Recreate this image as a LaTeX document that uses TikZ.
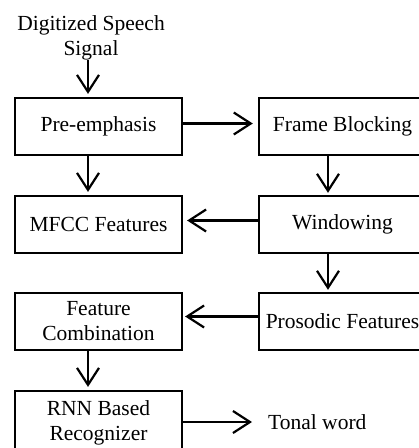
\documentclass[tikz,border=0pt]{standalone}
\usepackage{fontspec}
\setmainfont{Liberation Serif}
\usetikzlibrary{arrows.meta}
\begin{document}
\begin{tikzpicture}[x=1pt,y=-1pt,
 txt/.style={font=\fontsize{21.5}{25}\selectfont},
 box/.style={txt, draw, line width=2.2pt, minimum width=167pt, minimum height=57pt, inner sep=0pt, align=center},
 openbox/.style={txt, minimum width=167pt, minimum height=57pt, inner sep=0pt, align=center},
 side/.style={line width=2.2pt},
 lbl/.style={txt, inner sep=0pt, align=center},
 arr/.style={line width=2.2pt, shorten >=3pt, -{Straight Barb[length=17pt,width=22pt,line width=2.2pt]}}]
\useasboundingbox (0,0) rectangle (419,448);
\clip (0,0) rectangle (419,448);
\node[lbl] (sig) at (91,38) {Digitized Speech\\Signal};
\coordinate (in) at (88,60);
\node[box] (pre) at (98.5,126.5) {Pre-emphasis};
\node[openbox] (frame) at (342.5,126.5) {Frame Blocking};
\node[box] (mfcc) at (98.5,224.5) {MFCC Features};
\node[openbox] (win) at (342.5,224.5) {Windowing};
\node[box] (fc) at (98.5,321.5) {Feature\\Combination};
\node[openbox] (pros) at (342.5,321.5) {Prosodic Features};
\node[box, minimum height=64pt] (rnn) at (98.5,423) {RNN Based\\Recognizer};
\node[lbl, anchor=west, inner xsep=16pt] (tw) at (252,422) {Tonal word};
\foreach \n in {frame,win,pros}
  \draw[side] (\n.north east) -- (\n.north west) -- (\n.south west) -- (\n.south east);
\draw[arr] (in) -- ([xshift=-10.5pt]pre.north);
\draw[arr, shorten >=6pt] ([yshift=3pt]pre.east) -- ([yshift=3pt]frame.west);
\draw[arr] ([xshift=-10.5pt]pre.south) -- ([xshift=-10.5pt]mfcc.north);
\draw[arr] ([xshift=-14.5pt]frame.south) -- ([xshift=-14.5pt]win.north);
\draw[arr, shorten >=4pt] ([yshift=4pt]win.west) -- ([yshift=4pt]mfcc.east);
\draw[arr] ([xshift=-14.5pt]win.south) -- ([xshift=-14.5pt]pros.north);
\draw[arr, shorten >=2pt] ([yshift=5pt]pros.west) -- ([yshift=5pt]fc.east);
\draw[arr] ([xshift=-10.5pt]fc.south) -- ([xshift=-10.5pt]rnn.north);
\draw[arr, shorten >=0pt] (rnn.east |- tw.west) -- (tw.west);
\end{tikzpicture}
\end{document}
